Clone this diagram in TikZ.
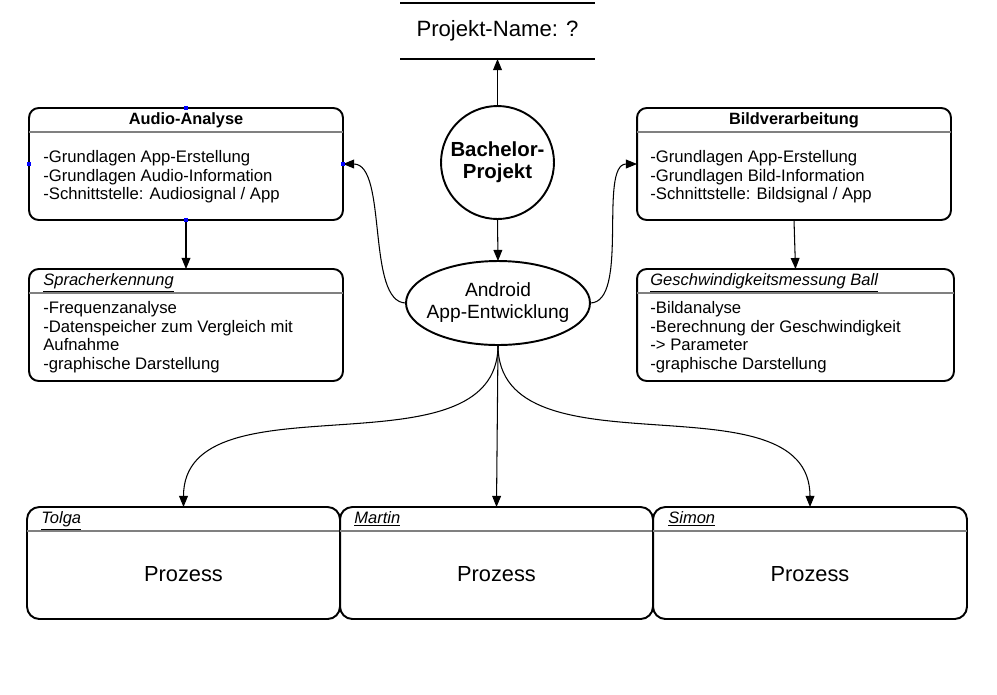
\documentclass[tikz,border=0pt]{standalone}
\usepackage{fontspec}
\setmainfont{Liberation Sans}
\usepackage{tikz}
\usetikzlibrary{arrows.meta,shapes.geometric}

\begin{document}
\begin{tikzpicture}[x=0.02cm,y=-0.02cm,
  box/.style={rectangle,draw,rounded corners=5.5pt,line width=1.1pt,minimum width=6.28cm,minimum height=2.24cm,inner sep=0,outer sep=0},
  pbox/.style={box,rounded corners=7pt,minimum width=6.26cm},
  sep/.style={draw=black!50,line width=0.8pt},
  head/.style={font=\fontsize{9.3}{10.8}\selectfont\bfseries,anchor=base,inner sep=0},
  lbl/.style={font=\fontsize{9.4}{10.8}\selectfont\itshape,anchor=base west,inner sep=0},
  body/.style={font=\fontsize{9.5}{10.8}\selectfont,anchor=north west,inner sep=0},
  big/.style={font=\fontsize{12.4}{14}\selectfont},
  arr/.style={-{Triangle[length=6.3pt,width=5pt]},line width=0.6pt},
  handle/.style={rectangle,fill=blue,inner sep=0,minimum size=2.5pt}]

\useasboundingbox (0,0) rectangle (997,694);

\node (ProjektName) at (497.5,31) [minimum width=3.9cm,minimum height=1.12cm,inner sep=0,outer sep=0,font=\fontsize{12.6}{14}\selectfont] {Projekt-Name: ?};
\draw[line width=1.1pt] (ProjektName.north west) -- (ProjektName.north east);
\draw[line width=1.1pt] (ProjektName.south west) -- (ProjektName.south east);

\node (Bachelor) at (497.5,162.5) [circle,draw,line width=1.1pt,minimum size=2.26cm,inner sep=0,outer sep=0,align=center,font=\fontsize{11.6}{12.7}\selectfont\bfseries] {Bachelor-\\Projekt};

\node (Android) at (498,303) [ellipse,draw,line width=1.1pt,minimum width=3.68cm,minimum height=1.68cm,inner sep=0,outer sep=0] {};
\node (AndroidText) at (Android) [align=center,inner sep=0,font=\fontsize{10.9}{12.5}\selectfont] {Android\\App-Entwicklung};

\node (Audio) at (186,164) [box] {};
\draw[sep] ([yshift=-0.48cm]Audio.north west) -- ([yshift=-0.48cm]Audio.north east);
\node (AudioHead) at (186,124) [head] {Audio-Analyse};
\node (AudioText) at (43,148.4) [body] {\begin{tabular}{@{}l@{}}-Grundlagen App-Erstellung\\-Grundlagen Audio-Information\\-Schnittstelle: Audiosignal / App\end{tabular}};

\node (Bild) at (794,164) [box] {};
\draw[sep] ([yshift=-0.48cm]Bild.north west) -- ([yshift=-0.48cm]Bild.north east);
\node (BildHead) at (794,124) [head] {Bildverarbeitung};
\node (BildText) at (650,148.4) [body] {\begin{tabular}{@{}l@{}}-Grundlagen App-Erstellung\\-Grundlagen Bild-Information\\-Schnittstelle: Bildsignal / App\end{tabular}};

\node (Sprache) at (186,325) [box] {};
\draw[sep] ([yshift=-0.48cm]Sprache.north west) -- ([yshift=-0.48cm]Sprache.north east);
\node (SpracheHead) at (43,285) [lbl] {\underline{Spracherkennung}};
\node (SpracheText) at (43,299.4) [body] {\begin{tabular}{@{}l@{}}-Frequenzanalyse\\-Datenspeicher zum Vergleich mit\\Aufnahme\\-graphische Darstellung\end{tabular}};

\node (Messung) at (795.5,325) [box,minimum width=6.34cm] {};
\draw[sep] ([yshift=-0.48cm]Messung.north west) -- ([yshift=-0.48cm]Messung.north east);
\node (MessungHead) at (650,285) [lbl] {\underline{Geschwindigkeitsmessung Ball}};
\node (MessungText) at (650,299.4) [body] {\begin{tabular}{@{}l@{}}-Bildanalyse\\-Berechnung der Geschwindigkeit\\-> Parameter\\-graphische Darstellung\end{tabular}};

\node (Tolga) at (183.5,563) [pbox] {};
\draw[sep] ([yshift=-0.48cm]Tolga.north west) -- ([yshift=-0.48cm]Tolga.north east);
\node (TolgaHead) at (41,523) [lbl] {\underline{Tolga}};
\node (TolgaText) at (183.5,574) [big] {Prozess};

\node (Martin) at (496.5,563) [pbox] {};
\draw[sep] ([yshift=-0.48cm]Martin.north west) -- ([yshift=-0.48cm]Martin.north east);
\node (MartinHead) at (354,523) [lbl] {\underline{Martin}};
\node (MartinText) at (496.5,574) [big] {Prozess};

\node (Simon) at (810,563) [pbox,minimum width=6.28cm] {};
\draw[sep] ([yshift=-0.48cm]Simon.north west) -- ([yshift=-0.48cm]Simon.north east);
\node (SimonHead) at (668,523) [lbl] {\underline{Simon}};
\node (SimonText) at (810,574) [big] {Prozess};

\draw[arr] (Bachelor.north) -- (ProjektName.south);
\draw[arr] (Bachelor.south) -- (Android.north);
\draw[arr] (Audio.south) -- (Sprache.north);
\draw[arr] (Bild.south) -- (Messung.north);
\draw[arr] (Android.west) .. controls +(-40,0) and +(45,0) .. (Audio.east);
\draw[arr] (Android.east) .. controls +(40,0) and +(-39,0) .. (Bild.west);
\draw[arr] (Android.south) .. controls +(0,135) and +(0,-135) .. (Tolga.north);
\draw[arr] (Android.south) -- (Martin.north);
\draw[arr] (Android.south) .. controls +(0,135) and +(0,-135) .. (Simon.north);

\foreach \a in {north,south,east,west}
  \node (Handle-\a) [handle] at (Audio.\a) {};

\end{tikzpicture}
\end{document}
